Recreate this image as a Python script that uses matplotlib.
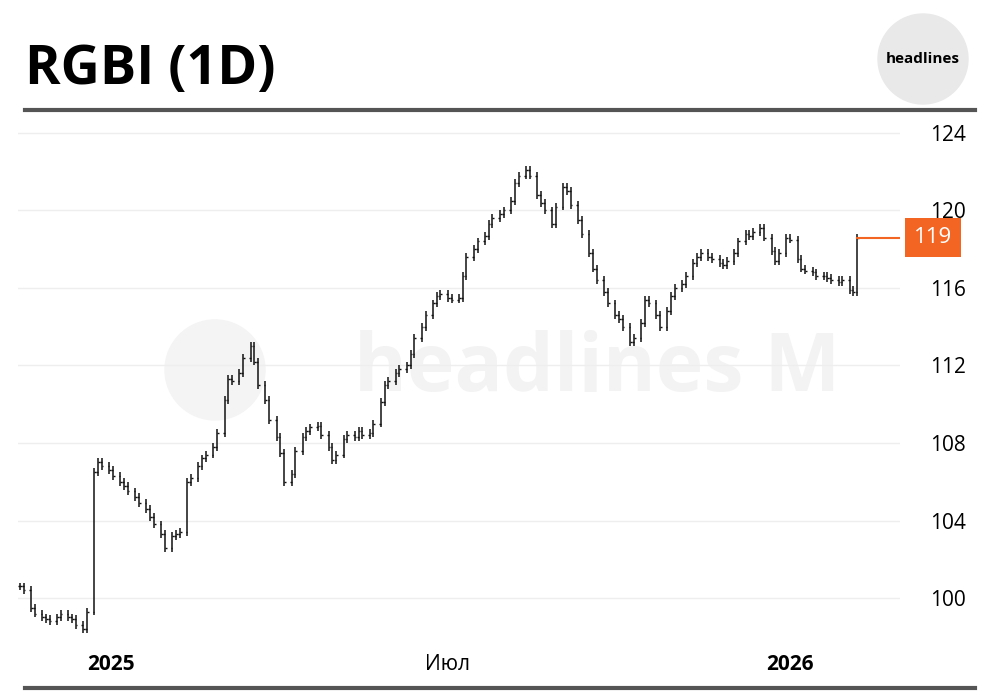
import matplotlib
matplotlib.use("Agg")
import matplotlib.pyplot as plt
import matplotlib.dates as mdates
from matplotlib.patches import Circle
from matplotlib.lines import Line2D
import numpy as np
import pandas as pd

plt.rcParams["font.family"] = ["Open Sans", "DejaVu Sans"]

start_date = "2024-11-13"
closes = [
    100.6, 100.4, 99.5, 99.2, 99.0, 98.9, 98.8, 99.0, 99.2, 99.0,
    98.9, 98.6, 98.4, 99.3, 106.5, 107.0, 106.8, 106.6, 106.3, 106.0,
    105.8, 105.5, 105.2, 104.9, 104.6, 104.2, 103.8, 103.3, 102.6, 103.2,
    103.3, 103.4, 106.0, 106.2, 106.8, 107.2, 107.4, 107.8, 108.5, 110.2,
    111.3, 111.2, 111.6, 112.4, 113.0, 112.2, 111.0, 110.2, 109.2, 108.3,
    107.5, 106.0, 106.4, 107.6, 108.3, 108.6, 108.8, 108.9, 108.4, 107.8,
    107.1, 107.4, 108.2, 108.4, 108.3, 108.6, 108.4, 108.5, 109.0, 110.1,
    111.0, 111.2, 111.6, 111.8, 112.0, 112.6, 113.4, 114.0, 114.6, 115.2,
    115.6, 115.7, 115.5, 115.4, 115.5, 116.6, 117.6, 118.0, 118.4, 118.7,
    119.3, 119.6, 119.8, 120.0, 120.5, 121.4, 121.8, 122.1, 121.8, 120.8,
    120.4, 120.0, 119.3, 120.2, 121.2, 121.0, 120.3, 119.5, 118.8, 117.8,
    117.0, 116.4, 115.8, 115.2, 114.6, 114.4, 114.0, 113.2, 113.4, 114.2,
    115.4, 115.2, 114.6, 114.0, 114.8, 115.6, 116.0, 116.2, 116.6, 117.3,
    117.6, 117.8, 117.6, 117.5, 117.3, 117.2, 117.4, 117.8, 118.4, 118.8,
    118.7, 118.9, 119.1, 118.6, 117.9, 117.4, 117.8, 118.6, 118.5, 117.5,
    117.0, 116.9, 116.8, 116.6, 116.6, 116.5, 116.4, 116.3, 116.4, 115.9,
    115.8, 118.6,
]
y_ticks = [100, 104, 108, 112, 116, 120, 124]
x_ticks = ["2025-01-01", "2025-07-01", "2026-01-01"]
x_labels = ["2025", "Июл", "2026"]
last_label = "119"

dates = pd.bdate_range(start_date, periods=len(closes), freq="2B")
c = np.array(closes)
o = np.concatenate([[c[0]], c[:-1]])
hi = np.maximum(o, c) + 0.2
lo = np.minimum(o, c) - 0.2

fig = plt.figure(figsize=(10, 6.98), dpi=100)

# watermark behind the chart
fig.text(0.597, 0.47, "headlines M", fontsize=58, fontweight="bold",
         color="#f3f3f3", ha="center", va="center", zorder=0)
logo = Circle((2.15, 6.98 * 0.47), 0.5, transform=fig.dpi_scale_trans,
              color="#f4f4f4", zorder=0)
fig.patches.append(logo)

ax = fig.add_axes([0.018, 0.083, 0.882, 0.7565])
ax.set_zorder(2)
ax.patch.set_alpha(0)
x = mdates.date2num(dates)
ax.vlines(x, lo, hi, color="#111111", lw=1.1)
ax.hlines(o, x - 0.9, x, color="#111111", lw=1.0)
ax.hlines(c, x, x + 0.9, color="#111111", lw=1.0)

ax.set_ylim(97.83, 125.08)
ax.set_xlim(mdates.date2num(pd.Timestamp(start_date)) - 1,
            mdates.date2num(dates[-1]) + 23)
ax.set_yticks(y_ticks)
ax.yaxis.tick_right()
ax.tick_params(axis="y", length=0, labelsize=15, pad=22)
ax.set_xticks(mdates.date2num(pd.to_datetime(x_ticks)))
ax.set_xticklabels(x_labels, fontsize=15)
for lab in ax.get_xticklabels():
    if lab.get_text() != "Июл":
        lab.set_fontweight("bold")
ax.tick_params(axis="x", length=0, pad=10)
ax.grid(axis="y", color="#eeeeee", lw=1)
for s in ax.spines.values():
    s.set_visible(False)

# last price marker
ax.plot([x[-1], ax.get_xlim()[1]], [c[-1], c[-1]], color="#f26522", lw=1.5)
ax.text(1.016, c[-1], last_label, transform=ax.get_yaxis_transform(),
        ha="left", va="center", fontsize=16, color="white", zorder=5,
        bbox=dict(boxstyle="square,pad=0.4", fc="#f26522", ec="none"))

# header
fig.text(0.025, 0.9, "RGBI (1D)", fontsize=39, fontweight="bold", va="center")
fig.patches.append(Circle((9.23, 6.39), 0.45, transform=fig.dpi_scale_trans,
                          color="#e9e9e9", zorder=1))
fig.text(0.923, 0.915, "headlines", fontsize=11, fontweight="bold",
         ha="center", va="center", zorder=2)
for yy in (1 - 110 / 698, 1 - 688 / 698):
    fig.add_artist(Line2D([0.025, 0.975], [yy, yy], color="#555555", lw=3))

fig.savefig("out.png", dpi=100)
